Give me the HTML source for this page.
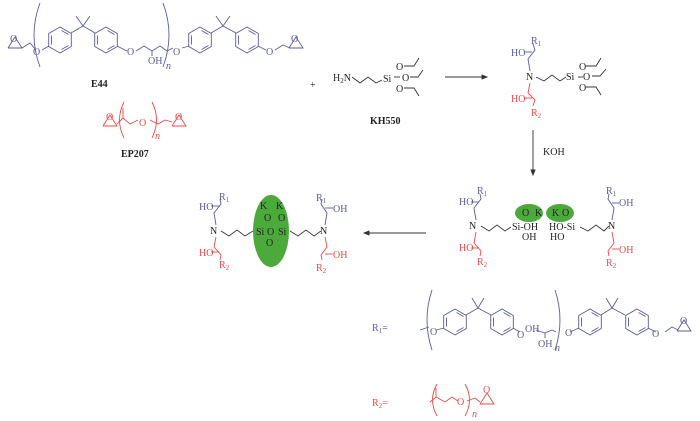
<!DOCTYPE html>
<html><head><meta charset="utf-8"><style>
body{margin:0;background:#fff}
svg{display:block}
text{font-family:"Liberation Serif",serif;font-size:10px}
.b{stroke:#5a5aa0;fill:none;stroke-width:0.9}
.r{stroke:#f04848;fill:none;stroke-width:0.9}
.k{stroke:#333;fill:none;stroke-width:0.9}
.tb{fill:#5a5aa0}.tr{fill:#f04848}.tk{fill:#222}
</style></head><body>
<svg width="700" height="421" viewBox="0 0 700 421">
<defs>
<g id="ring"><polygon points="0,-13 11.3,-6.5 11.3,6.5 0,13 -11.3,6.5 -11.3,-6.5"/><line x1="-8.5" y1="-4.5" x2="-8.5" y2="4.5"/><line x1="1.5" y1="-9.5" x2="8.5" y2="-5.5"/><line x1="1.5" y1="9.5" x2="8.5" y2="5.5"/></g>
<g id="epo"><polyline points="-7,5 7,5 0,-6 -7,5"/></g>
</defs>
<!-- E44 -->
<g class="b">
<use href="#ring" x="60" y="40"/><use href="#ring" x="106" y="40"/><use href="#ring" x="200" y="40"/><use href="#ring" x="247" y="40"/>
<use href="#epo" x="15" y="43"/>
<polyline points="22,48 30,43 36,50"/>
<line x1="42" y1="50" x2="49" y2="46"/>
<polyline points="71,33 83,26 95,33"/><line x1="83" y1="26" x2="76" y2="16"/><line x1="83" y1="26" x2="90" y2="16"/>
<polyline points="117,46 127,51"/><polyline points="136,51 144,46 152,51 160,46 167,51 173,48"/>
<polyline points="211,33 223,26 236,33"/><line x1="223" y1="26" x2="216" y2="16"/><line x1="223" y1="26" x2="230" y2="16"/>
<line x1="182" y1="48" x2="189" y2="46"/><line x1="258" y1="46" x2="266" y2="50"/><polyline points="275,50 283,45 290,48"/>
<use href="#epo" x="296" y="43"/>
<path d="M40 3 Q28 35 40 67"/><path d="M163 3 Q175 35 163 67"/>
<line x1="152" y1="51" x2="152" y2="56"/>
</g>
<g class="tb"><text x="33" y="55">O</text><text x="127" y="55">O</text><text x="173" y="55">O</text><text x="266" y="55">O</text><text x="148" y="64">OH</text><text x="166" y="69" font-style="italic">n</text>
<text x="10" y="42" font-size="8">O</text><text x="291" y="42" font-size="8">O</text></g>
<text x="91" y="87" class="tk" font-weight="bold">E44</text>
<!-- EP207 -->
<g class="r"><use href="#epo" x="110" y="121"/><polyline points="117,124 123,118 130,124 138,120"/><line x1="123" y1="118" x2="123" y2="108"/><polyline points="150,120 158,124 165,120 172,122"/><use href="#epo" x="179" y="121"/>
<path d="M124 102 Q115 120 124 138"/><path d="M152 102 Q161 120 152 138"/></g>
<g class="tr"><text x="139" y="126">O</text><text x="106" y="120" font-size="8">O</text><text x="175" y="120" font-size="8">O</text><text x="155" y="139" font-style="italic" font-size="9">n</text></g>
<text x="121" y="157" class="tk" font-weight="bold">EP207</text>
<text x="310" y="88" class="tk">+</text>
<!-- KH550 -->
<g class="k"><polyline points="352,77 360,83 368,77 376,83 382,80"/><line x1="394" y1="77" x2="400" y2="77"/><polyline points="404,66 414,66 419,58"/><polyline points="410,77 418,77 423,70"/><polyline points="404,88 414,88 419,96"/><line x1="445" y1="77" x2="485" y2="77"/><polygon points="487,77 482,75 482,79" fill="#333"/></g>
<g class="tk"><text x="333" y="81">H<tspan font-size="7" dy="2">2</tspan><tspan dy="-2">N</tspan></text><text x="383" y="82">Si</text><text x="396" y="70">O</text><text x="402" y="81">O</text><text x="396" y="92">O</text></g>
<text x="370" y="124" class="tk" font-weight="bold">KH550</text>
<!-- product 1 -->
<g class="b"><polyline points="530,71 528,59 535,50 533,44"/><line x1="524" y1="52" x2="532" y2="52"/></g>
<g class="r"><polyline points="530,83 528,93 535,100 533,106"/><line x1="524" y1="98" x2="532" y2="98"/></g>
<g class="k"><polyline points="536,77 544,81 552,75 560,81 566,77"/><line x1="578" y1="77" x2="583" y2="77"/><polyline points="586,66 596,66 601,58"/><polyline points="592,76 600,76 606,69"/><polyline points="586,87 596,87 601,95"/><line x1="533" y1="130" x2="533" y2="172"/><polygon points="533,175 531,170 535,170" fill="#333"/></g>
<g class="tb"><text x="511" y="56">HO</text><text x="531" y="44">R<tspan font-size="7" dy="2">1</tspan></text></g>
<g class="tr"><text x="511" y="102">HO</text><text x="531" y="116">R<tspan font-size="7" dy="2">2</tspan></text></g>
<g class="tk"><text x="526" y="80">N</text><text x="566" y="80">Si</text><text x="579" y="70">O</text><text x="583" y="80">O</text><text x="579" y="91">O</text><text x="543" y="155">KOH</text></g>
<!-- product 2 -->
<ellipse cx="529" cy="213" rx="14" ry="9" fill="#4caa3c"/><ellipse cx="560" cy="213" rx="14" ry="9" fill="#4caa3c"/>
<g class="b"><polyline points="476,220 474,208 481,199 480,194"/><line x1="471" y1="202" x2="479" y2="202"/><polyline points="612,220 614,208 608,199 609,194"/><line x1="612" y1="203" x2="619" y2="203"/></g>
<g class="r"><polyline points="476,232 474,243 481,251 480,256"/><line x1="471" y1="248" x2="479" y2="248"/><polyline points="612,232 614,243 608,251 609,256"/><line x1="612" y1="249" x2="619" y2="249"/></g>
<g class="k"><polyline points="481,226 489,231 497,225 505,231 511,227"/><polyline points="580,227 588,231 596,225 604,231 609,226"/><line x1="366" y1="233" x2="426" y2="233"/><polygon points="364,233 369,231 369,235" fill="#333"/></g>
<g class="tb"><text x="459" y="205">HO</text><text x="477" y="194">R<tspan font-size="7" dy="2">1</tspan></text><text x="606" y="194">R<tspan font-size="7" dy="2">1</tspan></text><text x="619" y="206">OH</text></g>
<g class="tr"><text x="459" y="251">HO</text><text x="477" y="265">R<tspan font-size="7" dy="2">2</tspan></text><text x="606" y="266">R<tspan font-size="7" dy="2">2</tspan></text><text x="619" y="253">OH</text></g>
<g class="tk"><text x="469" y="229">N</text><text x="512" y="230">Si-OH</text><text x="522" y="240">OH</text><text x="522" y="216" font-size="9">O</text><text x="535" y="216" font-size="9">K</text><text x="552" y="216" font-size="9">K</text><text x="562" y="216" font-size="9">O</text><text x="549" y="230">HO-Si</text><text x="550" y="240">HO</text><text x="608" y="229">N</text></g>
<!-- product 3 -->
<ellipse cx="271" cy="231" rx="18" ry="36" fill="#4caa3c"/>
<g class="b"><polyline points="216,225 214,213 221,204 220,199"/><line x1="211" y1="206" x2="219" y2="206"/><polyline points="325,225 327,213 321,204 322,199"/><line x1="325" y1="208" x2="333" y2="208"/></g>
<g class="r"><polyline points="216,237 214,247 221,255 220,260"/><line x1="211" y1="252" x2="219" y2="252"/><polyline points="325,237 327,247 321,255 322,260"/><line x1="325" y1="254" x2="333" y2="254"/></g>
<g class="k"><polyline points="221,231 229,236 237,230 245,236 253,231"/><polyline points="290,231 298,236 306,230 314,236 321,231"/></g>
<g class="tb"><text x="199" y="210">HO</text><text x="219" y="200">R<tspan font-size="7" dy="2">1</tspan></text><text x="316" y="201">R<tspan font-size="7" dy="2">1</tspan></text><text x="333" y="212">OH</text></g>
<g class="tr"><text x="199" y="256">HO</text><text x="219" y="268">R<tspan font-size="7" dy="2">2</tspan></text><text x="316" y="271">R<tspan font-size="7" dy="2">2</tspan></text><text x="333" y="258">OH</text></g>
<g class="tk" font-size="9"><text x="210" y="234">N</text><text x="320" y="234">N</text><text x="260" y="209" font-size="9">K</text><text x="276" y="209" font-size="9">K</text><text x="264" y="221" font-size="9">O</text><text x="278" y="221" font-size="9">O</text><text x="256" y="235" font-size="9">Si</text><text x="267" y="235" font-size="9">O</text><text x="278" y="235" font-size="9">Si</text><text x="266" y="246" font-size="9">O</text></g>
<!-- R1= -->
<text x="372" y="331" class="tb">R<tspan font-size="7" dy="2">1</tspan><tspan dy="-2">=</tspan></text>
<g class="b">
<use href="#ring" x="455" y="322"/><use href="#ring" x="502" y="322"/><use href="#ring" x="590" y="322"/><use href="#ring" x="637" y="322"/>
<line x1="420" y1="330" x2="429" y2="327"/><line x1="436" y1="330" x2="444" y2="328"/>
<polyline points="466,315 478,308 491,315"/><line x1="478" y1="308" x2="472" y2="298"/><line x1="478" y1="308" x2="484" y2="298"/>
<line x1="513" y1="328" x2="520" y2="332"/><polyline points="536,330 545,333 552,330 556,332"/><line x1="545" y1="333" x2="545" y2="338"/>
<polyline points="601,315 612,308 625,315"/><line x1="612" y1="308" x2="606" y2="298"/><line x1="612" y1="308" x2="618" y2="298"/>
<line x1="570" y1="332" x2="579" y2="328"/><line x1="648" y1="328" x2="656" y2="332"/><polyline points="665,332 672,327 678,330"/><use href="#epo" x="684" y="326"/>
<path d="M432 290 Q422 320 432 350"/><path d="M555 290 Q565 320 555 350"/>
</g>
<g class="tb" font-size="9"><text x="430" y="335">O</text><text x="517" y="338">O</text><text x="525" y="332">OH</text><text x="538" y="347">OH</text><text x="555" y="351" font-style="italic">n</text><text x="565" y="336">O</text><text x="652" y="337">O</text><text x="680" y="324" font-size="8">O</text></g>
<!-- R2= -->
<text x="372" y="406" class="tr">R<tspan font-size="7" dy="2">2</tspan><tspan dy="-2">=</tspan></text>
<g class="r"><polyline points="430,402 436,397 445,402 452,397 458,401"/><line x1="436" y1="397" x2="436" y2="388"/><polyline points="467,401 475,398 480,402"/><use href="#epo" x="487" y="399"/>
<path d="M437 384 Q428 400 437 416"/><path d="M465 384 Q474 400 465 416"/></g>
<g class="tr" font-size="9"><text x="457" y="405">O</text><text x="483" y="393" font-size="8">O</text><text x="472" y="417" font-style="italic">n</text></g>
</svg>
</body></html>
